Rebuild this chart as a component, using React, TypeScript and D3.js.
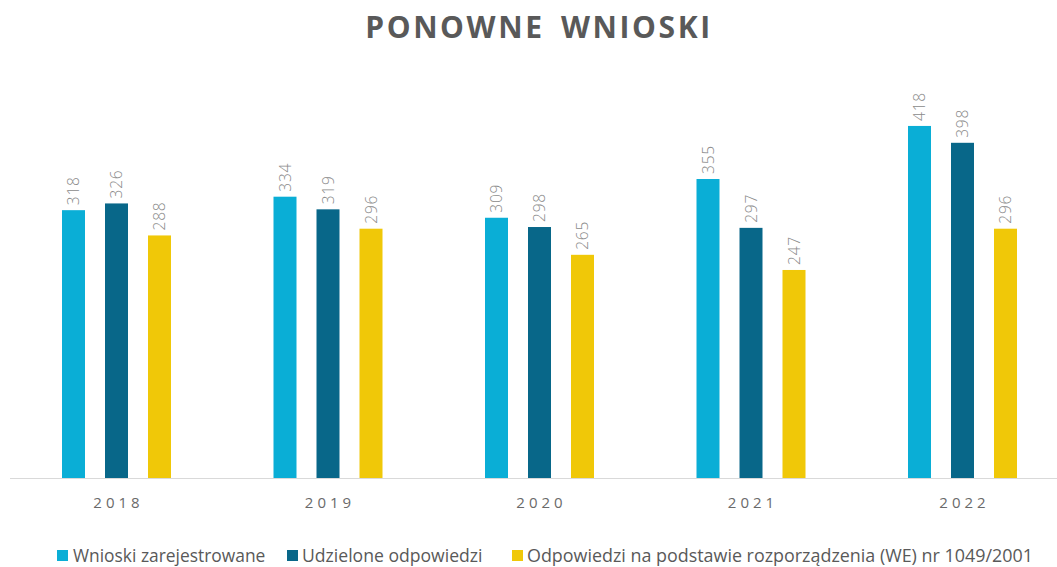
import React from "react";
import * as d3 from "d3";

const years = ["2018", "2019", "2020", "2021", "2022"];
const seriesNames = [
  "Wnioski zarejestrowane",
  "Udzielone odpowiedzi",
  "Odpowiedzi na podstawie rozporządzenia (WE) nr 1049/2001",
];
const registered = [318, 334, 309, 355, 418];
const answered = [326, 319, 298, 297, 398];
const regulation = [288, 296, 265, 247, 296];
const colors = ["#0AAED6", "#086789", "#F0C808"];
const title = "PONOWNE WNIOSKI";

export default function App() {
  const W = 1057, H = 567;
  const values = [registered, answered, regulation];
  const x0 = d3.scaleBand<string>().domain(years).range([10.75, 1068.25]).padding(0);
  const x1 = d3
    .scaleBand<string>()
    .domain(seriesNames)
    .range([51.25, 160.25])
    .paddingInner(20 / 43)
    .paddingOuter(0);
  const y = d3.scaleLinear().domain([0, 450]).range([478, 99]);
  const font = "'Open Sans', sans-serif";
  const legendX = [57, 287, 512];
  const legendSize = [17.4, 17.6, 17.9];

  return (
    <svg width={W} height={H} style={{ position: "absolute", left: 0, top: 0 }}>
      <rect width={W} height={H} fill="#fff" />
      <text
        x={539}
        y={38}
        textAnchor="middle"
        fontFamily={font}
        fontWeight={700}
        fontSize={30}
        letterSpacing={2.6}
        wordSpacing={6}
        fill="#595959"
      >
        {title}
      </text>
      {years.map((yr, i) => (
        <g key={yr} transform={`translate(${x0(yr)},0)`}>
          {seriesNames.map((s, j) => {
            const v = values[j][i];
            const bx = x1(s)!;
            const bw = x1.bandwidth();
            return (
              <g key={s}>
                <rect x={bx} y={y(v)} width={bw} height={y(0) - y(v)} fill={colors[j]} />
                <text
                  transform={`translate(${bx + bw / 2 + 5.5},${y(v) - 5}) rotate(-90)`}
                  fontFamily={font}
                  fontWeight={300}
                  fontSize={15.5}
                  letterSpacing={0.8}
                  fill="#8a8a8a"
                >
                  {v}
                </text>
              </g>
            );
          })}
          <text
            x={x0.bandwidth() / 2 + 2}
            y={508}
            textAnchor="middle"
            fontFamily={font}
            fontSize={15}
            letterSpacing={4}
            fill="#6a6a6a"
          >
            {yr}
          </text>
        </g>
      ))}
      <line x1={10} x2={1057} y1={478.5} y2={478.5} stroke="#d9d9d9" strokeWidth={1} />
      {seriesNames.map((s, j) => (
        <g key={s} transform={`translate(${legendX[j]},0)`}>
          <rect x={0} y={550} width={11} height={11} fill={colors[j]} />
          <text x={j === 0 ? 16 : 15} y={562} fontFamily={font} fontSize={legendSize[j]} fill="#595959">
            {s}
          </text>
        </g>
      ))}
    </svg>
  );
}
